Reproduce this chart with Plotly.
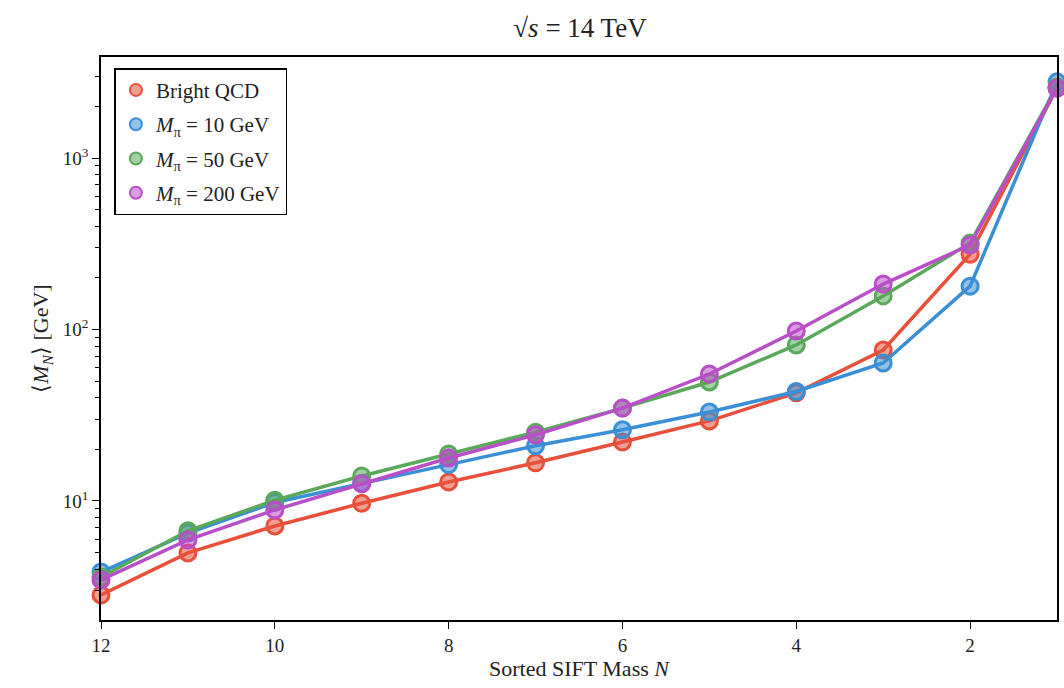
import plotly.graph_objects as go

N = [12, 11, 10, 9, 8, 7, 6, 5, 4, 3, 2, 1]
bright_qcd = [2.83, 4.98, 7.15, 9.7, 12.9, 16.7, 22.1, 29.3, 42.7, 75.9, 275, 2560]
m10 = [3.85, 6.5, 9.8, 12.7, 16.3, 21.0, 26.0, 33.0, 43.5, 63.8, 179, 2780]
m50 = [3.6, 6.7, 10.1, 14.0, 18.8, 25.2, 34.8, 49.4, 81.3, 157, 319, 2600]
m200 = [3.46, 5.93, 8.87, 12.6, 17.8, 24.3, 34.8, 55.0, 98.0, 184, 311, 2560]

names = ["Bright QCD", "<i>M</i><sub>π</sub> = 10 GeV",
         "<i>M</i><sub>π</sub> = 50 GeV", "<i>M</i><sub>π</sub> = 200 GeV"]
series = [bright_qcd, m10, m50, m200]
colors = ["#e8503a", "#3a8fd6", "#5aa85a", "#b94fc8"]
fills = ["rgba(232,80,58,0.55)", "rgba(58,143,214,0.55)",
         "rgba(90,168,90,0.55)", "rgba(185,79,200,0.55)"]

FONT = "Liberation Serif"

fig = go.Figure()
for i, (name, ys, c, f) in enumerate(zip(names, series, colors, fills)):
    fig.add_trace(go.Scatter(
        x=N, y=ys, name=name, mode="lines+markers", showlegend=False,
        legendgroup=f"g{i}",
        line=dict(color=c, width=3.5),
        marker=dict(size=16, color=f, line=dict(color=c, width=3)),
        cliponaxis=False,
    ))
# legend-only marker entries (matplotlib-style legend shows the marker only)
for i, (name, c, f) in enumerate(zip(names, colors, fills)):
    fig.add_trace(go.Scatter(
        x=[None], y=[None], name=name, mode="markers", legendgroup=f"g{i}",
        marker=dict(size=17, color=f, line=dict(color=c, width=3)),
    ))

minor_vals = [m * 10 ** e for e in range(0, 4) for m in range(2, 10)]

fig.update_layout(
    width=1064, height=688,
    margin=dict(l=101, r=5, t=57, b=68),
    paper_bgcolor="white", plot_bgcolor="white",
    font=dict(family=FONT, size=19, color="#222"),
    title=dict(text="√<i>s</i> = 14 TeV", x=(101 + 1059) / 2 / 1064, xanchor="center",
               y=1 - 28 / 688, yanchor="middle", font=dict(size=27, family=FONT)),
    showlegend=True,
    legend=dict(x=0.014, y=0.98, xanchor="left", yanchor="top",
                bgcolor="white", bordercolor="black", borderwidth=1.5,
                font=dict(size=21, family=FONT), itemsizing="constant",
                tracegroupgap=4),
    xaxis=dict(range=[12, 1], tickvals=[12, 10, 8, 6, 4, 2], ticks="outside",
               ticklen=7, tickwidth=1.2, tickcolor="black",
               showline=True, linecolor="black", linewidth=1.5, mirror=True,
               showgrid=False, zeroline=False,
               title=dict(text="Sorted SIFT Mass <i>N</i>", font=dict(size=22), standoff=4),
               tickfont=dict(size=19)),
    yaxis=dict(type="log", range=[0.306, 3.589],
               tickvals=[10, 100, 1000],
               ticktext=["10<sup>1</sup>", "10<sup>2</sup>", "10<sup>3</sup>"],
               ticks="outside", ticklen=7, tickwidth=1.2, tickcolor="black",
               minor=dict(tickvals=minor_vals, ticks="outside", ticklen=4,
                          tickwidth=1, tickcolor="black", showgrid=False),
               showline=True, linecolor="black", linewidth=1.5, mirror=True,
               showgrid=False, zeroline=False,
               title=dict(text="⟨<i>M</i><sub><i>N</i></sub>⟩ [GeV]", font=dict(size=22), standoff=8),
               tickfont=dict(size=19)),
)

fig.write_html("out.html")
